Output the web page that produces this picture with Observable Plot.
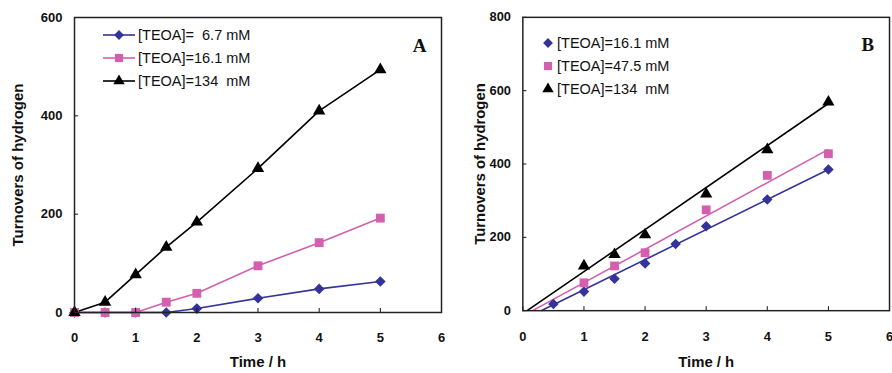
<!DOCTYPE html>
<html><head><meta charset="utf-8">
<script src="https://cdn.jsdelivr.net/npm/d3@7"></script>
<script src="https://cdn.jsdelivr.net/npm/@observablehq/plot@0.6"></script>
<style>
html,body{margin:0;padding:0;background:#fff;overflow:hidden;}
#wrap{position:relative;width:892px;height:373px;}
.panel{position:absolute;top:0;height:373px;overflow:hidden;}
#pa{left:0;width:450px;} #pb{left:450px;width:442px;}
#leg{position:absolute;left:0;top:0;pointer-events:none;}
</style></head><body><div id="wrap"><div id="pa" class="panel"></div><div id="pb" class="panel"></div><svg id="leg" width="892" height="373"></svg></div>
<script>
// ---- Panel A data ----
const timeA = [0, 0.5, 1, 1.5, 2, 3, 4, 5];
const a_6_7 = [0, 0, 0, 0, 8, 29, 48, 63];
const a_16_1 = [0, 0, 0, 21, 39, 95, 142, 192];
const a_134 = [0, 21, 77, 133, 184, 293, 410, 494];
const seriesA = ["[TEOA]=\u00a0 6.7 mM", "[TEOA]=16.1 mM", "[TEOA]=134\u00a0 mM"];

// ---- Panel B data ----
const timeB_16_1 = [0.5, 1, 1.5, 2, 2.5, 3, 4, 5];
const b_16_1 = [18, 52, 87, 129, 182, 230, 303, 385];
const timeB = [1, 1.5, 2, 3, 4, 5];
const b_47_5 = [76, 122, 158, 275, 369, 428];
const b_134 = [122, 153, 207, 318, 439, 569];
const seriesB = ["[TEOA]=16.1 mM", "[TEOA]=47.5 mM", "[TEOA]=134\u00a0 mM"];
// linear trend lines: x-intercept and value at 5 h
const fitStartB = [0.3, 0.16, 0.07];
const fitEndTime = 5;
const fitEndB = [385, 440, 565];

const xTicks = [0, 1, 2, 3, 4, 5, 6];
const yTicksA = [0, 200, 400, 600];
const yTicksB = [0, 200, 400, 600, 800];
const xLabel = "Time / h";
const yLabel = "Turnovers of hydrogen";

const colors = ["#333399", "#d35fae", "#000000"];
const symbols = ["diamond2", "square", "triangle"];
const radii = [4.8, 5.0, 4.6];
const FONT = "'Liberation Sans', Arial, Helvetica, sans-serif";

const rowsA = [];
[a_6_7, a_16_1, a_134].forEach((arr, i) => arr.forEach((v, j) => rowsA.push({t: timeA[j], v, s: seriesA[i]})));
const rowsB = [];
b_16_1.forEach((v, j) => rowsB.push({t: timeB_16_1[j], v, s: seriesB[0]}));
b_47_5.forEach((v, j) => rowsB.push({t: timeB[j], v, s: seriesB[1]}));
b_134.forEach((v, j) => rowsB.push({t: timeB[j], v, s: seriesB[2]}));
const fitsB = seriesB.map((s, i) => ({s, x1: fitStartB[i], y1: 0, x2: fitEndTime, y2: fitEndB[i]}));

function dots(rows, series) {
  return series.map((s, i) => Plot.dot(rows.filter(d => d.s === s), {x: "t", y: "v", fill: colors[i], symbol: symbols[i], r: radii[i]}));
}
function seriesLines(rows, series) {
  return series.map((s, i) => Plot.line(rows.filter(d => d.s === s), {x: "t", y: "v", stroke: colors[i], strokeWidth: 1.6}));
}
function common(yTicks, letter, o) {
  return [
    Plot.axisX(xTicks, {tickSize: -4, tickPadding: o.xPad, label: null, fontSize: 13, fontWeight: "bold"}),
    Plot.axisY(yTicks, {tickSize: -4, tickPadding: 16, label: null, fontSize: 13, fontWeight: "bold"}),
    Plot.frame({stroke: "#222", strokeWidth: 1.5}),
    Plot.text([xLabel], {frameAnchor: "bottom", dy: o.xLab, fontSize: 15, fontWeight: "bold", textAnchor: "middle", lineAnchor: "middle"}),
    Plot.text([yLabel], {frameAnchor: "left", dx: o.yLab, rotate: -90, fontSize: 15, fontWeight: "bold", textAnchor: "middle", lineAnchor: "middle"}),
    Plot.text([letter], {frameAnchor: "top-right", dx: -22, dy: 28, fontSize: 19, fontWeight: "bold", fontFamily: "'Liberation Serif','Times New Roman',serif", textAnchor: "middle", lineAnchor: "middle"})
  ];
}

const plotA = Plot.plot({
  width: 450, height: 373, marginLeft: 74, marginRight: 9, marginTop: 17, marginBottom: 61,
  style: {fontFamily: FONT, color: "#111", background: "transparent"},
  x: {domain: [0, 6]}, y: {domain: [0, 600]},
  marks: [
    ...seriesLines(rowsA, seriesA),
    ...dots(rowsA, seriesA),
    ...common(yTicksA, "A", {xPad: 24, xLab: 50, yLab: -56})
  ]
});
document.getElementById("pa").appendChild(plotA);

const plotB = Plot.plot({
  width: 446, height: 373, marginLeft: 73, marginRight: 3, marginTop: 17, marginBottom: 60,
  style: {fontFamily: FONT, color: "#111", background: "transparent"},
  x: {domain: [0, 6]}, y: {domain: [0, 800]},
  marks: [
    Plot.link(fitsB, {x1: "x1", y1: "y1", x2: "x2", y2: "y2", stroke: (d, i) => colors[i], strokeWidth: 1.6}),
    ...dots(rowsB, seriesB),
    ...common(yTicksB, "B", {xPad: 25, xLab: 52, yLab: -43})
  ]
});
document.getElementById("pb").appendChild(plotB);

// ---- legends ----
const leg = d3.select("#leg").style("font-family", FONT).style("font-size", "14.5px");
const symMap = {diamond2: d3.symbolDiamond2, square: d3.symbolSquare, triangle: d3.symbolTriangle};
function legend(series, x0, y0, step, withLine) {
  series.forEach((s, i) => {
    const y = y0 + i * step;
    const g = leg.append("g");
    let mx, tx;
    if (withLine) {
      g.append("line").attr("x1", x0).attr("x2", x0 + 32).attr("y1", y).attr("y2", y).attr("stroke", colors[i]).attr("stroke-width", 1.6);
      mx = x0 + 16; tx = x0 + 35;
    } else { mx = x0; tx = x0 + 9; }
    g.append("path").attr("d", d3.symbol(symMap[symbols[i]], Math.PI * radii[i] * radii[i] * 0.85)()).attr("transform", `translate(${mx},${y})`).attr("fill", colors[i]);
    g.append("text").attr("x", tx).attr("y", y).attr("dy", "0.35em").attr("fill", "#111").text(s);
  });
}
legend(seriesA, 103, 35, 23, true);
legend(seriesB, 548, 43, 23, false);
</script></body></html>
